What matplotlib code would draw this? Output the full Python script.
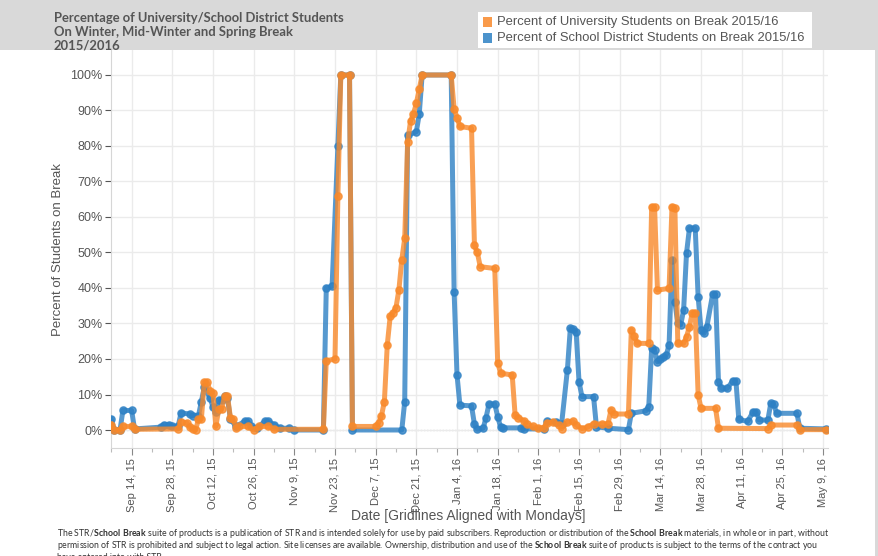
import numpy as np
import pandas as pd
import matplotlib
matplotlib.use('Agg')
import matplotlib.pyplot as plt
from matplotlib.patches import Rectangle
from matplotlib.ticker import FixedLocator, FuncFormatter

plt.rcParams['font.family'] = ['Liberation Sans', 'DejaVu Sans']
plt.rcParams['mathtext.fontset'] = 'custom'
plt.rcParams['mathtext.rm'] = 'Lato'
plt.rcParams['mathtext.bf'] = 'Lato:bold'

# --- data (day offsets from Mon Sep 14, 2015; percent on break) ---
start = pd.Timestamp('2015-09-14')

uni_day = [-7, -6, -4, -3, 0, 1, 16, 17, 19, 20, 21, 22, 23, 24, 25, 26, 27, 28, 29, 30,
           31, 32, 33, 34, 35, 36, 37, 40, 42, 44, 47, 49, 66, 67, 70, 71, 72, 75, 76, 84,
           85, 86, 87, 88, 89, 90, 91, 92, 93, 94, 95, 96, 97, 98, 99, 100, 110, 111, 112, 113,
           117, 118, 119, 120, 125, 126, 127, 131, 132, 133, 135, 136, 138, 140, 142, 143, 145, 147, 148, 150,
           152, 153, 155, 157, 159, 162, 164, 165, 166, 171, 172, 173, 174, 178, 179, 180, 181, 185, 186, 187,
           188, 190, 191, 192, 193, 194, 195, 196, 201, 202, 219, 220, 229, 230, 239]
uni_pct = [1.5, 0, 0, 1, 1, 0.2, 0.3, 2.3, 2, 0.9, 0.3, 0, 3, 3, 13.5, 13.5, 11, 10.5, 1, 6,
           6, 9.5, 9.5, 3.5, 3, 0.5, 1, 1, 0, 1, 1, 0.2, 0.2, 19.5, 20, 66, 100, 100, 1, 1,
           2, 4, 8, 24, 32, 33, 34.5, 39.5, 48, 54, 81, 87, 89, 92, 96, 100, 100, 90.5, 88, 85.5,
           85, 52, 50, 46, 45.5, 19, 16, 15.5, 4.2, 3.5, 2.6, 1.6, 1, 0.6, 0.6, 2, 2.2, 1.4, 0.4, 2.2,
           2.4, 1.4, 0.4, 0.8, 1.8, 1.6, 1.8, 5.6, 4.5, 4.5, 28.2, 26.5, 24.4, 24.4, 62.9, 62.9, 39.4, 39.9, 62.9, 62.5,
           24.4, 24.4, 26.3, 29.1, 33, 33, 9.9, 6.1, 6.1, 0.5, 0.4, 1.4, 1.4, 0.1, 0.1]

sd_day = [-7, -6, -4, -3, 0, 1, 10, 11, 13, 14, 16, 17, 20, 21, 23, 24, 25, 27, 28, 29,
          30, 31, 32, 33, 34, 36, 39, 40, 41, 43, 46, 47, 49, 51, 54, 56, 66, 67, 69, 71,
          72, 75, 76, 93, 94, 95, 98, 99, 100, 110, 111, 112, 113, 117, 118, 119, 121, 122, 123, 125,
          126, 127, 128, 134, 135, 142, 143, 146, 148, 150, 151, 152, 153, 154, 155, 159, 160, 164, 171, 172,
          177, 178, 179, 180, 181, 182, 183, 184, 185, 186, 187, 188, 189, 190, 191, 192, 194, 195, 196, 197,
          198, 200, 201, 202, 203, 205, 207, 208, 209, 212, 214, 215, 216, 219, 220, 221, 222, 229, 230, 239]
sd_pct = [3, 0, 0, 5.5, 5.5, 0.3, 0.8, 1.5, 1.5, 1, 1, 4.8, 4.5, 4, 4, 8, 12, 9, 6.5, 5,
          8.5, 8.5, 9.5, 9, 3, 1, 2.5, 2.5, 1, 0.5, 2.5, 2.5, 1.5, 0.5, 0.5, 0, 0, 40, 40.5, 80,
          100, 100, 0, 0, 8, 83, 84, 89, 100, 100, 39, 15.5, 7, 6.8, 1.6, 0.2, 0.5, 3.5, 7.3, 7.3,
          3.8, 0.8, 0.6, 0.6, 0.3, 0.3, 2.5, 2.3, 1.7, 17, 28.6, 28.4, 27.7, 13.6, 9.4, 9.4, 0.9, 0.5, 0.1, 4.7,
          5.4, 6.6, 23, 22.5, 19.2, 19.9, 20.5, 21, 24, 48, 36, 30, 29.6, 33.8, 49.8, 56.8, 56.8, 37.5, 28.2, 27.2,
          29.1, 38.3, 38.3, 13.6, 11.7, 11.7, 13.9, 13.9, 3, 2.4, 5.2, 5.2, 2.8, 2.8, 7.5, 7.3, 4.7, 4.7, 0.5, 0.3]

uni_label = 'Percent of University Students on Break 2015/16'
sd_label = 'Percent of School District Students on Break 2015/16'
title = ('Percentage of University/School District Students\n'
         'On Winter, Mid-Winter and Spring Break\n2015/2016')

uni_col = '#f8892a'
sd_col = '#2d80c4'

W, H = 879, 556
fig = plt.figure(figsize=(W / 100, H / 100), dpi=100)
fig.patch.set_facecolor('white')

# grey header band + right border
fig.patches.append(Rectangle((0, 1 - 50 / H), 1, 50 / H, transform=fig.transFigure,
                             facecolor='#d9d9d9', edgecolor='none', zorder=0))
fig.patches.append(Rectangle((875 / W, 0), 4 / W, 1, transform=fig.transFigure,
                             facecolor='#d9d9d9', edgecolor='none', zorder=0))

ax = fig.add_axes([111 / W, 1 - 448 / H, (828 - 111) / W, (448 - 50) / H])
ax.set_facecolor('white')

ax.plot(sd_day, sd_pct, color=sd_col, lw=3.6, alpha=0.8, marker='o', ms=5.2,
        solid_joinstyle='round', zorder=3)
ax.plot(uni_day, uni_pct, color=uni_col, lw=3.6, alpha=0.8, marker='o', ms=5.2,
        solid_joinstyle='round', zorder=4)

ax.set_xlim(-7.1, 239.7)
ax.set_ylim(-5.07, 107.04)

major = np.arange(0, 239, 14)
minor = np.arange(-7, 240, 7)
ax.xaxis.set_major_locator(FixedLocator(major))
ax.xaxis.set_minor_locator(FixedLocator(minor))
ax.xaxis.set_major_formatter(FuncFormatter(
    lambda d, p: (start + pd.Timedelta(days=int(round(d)))).strftime('%b %-d, %y')))
ax.set_yticks(np.arange(0, 101, 10))
ax.yaxis.set_major_formatter(FuncFormatter(lambda v, p: f'{int(v)}%'))

ax.grid(True, which='major', color='#ebebeb', lw=1, zorder=0)
ax.axhline(0, color='#b0b0b0', lw=0.9, ls=(0, (1, 1.5)), zorder=1)

for s in ['top', 'right']:
    ax.spines[s].set_visible(False)
for s in ['left', 'bottom']:
    ax.spines[s].set_color('#d6d6d6')

ax.tick_params(axis='y', labelsize=9, colors='#555555', length=4, pad=2, width=0.8)
ax.tick_params(axis='x', which='major', labelsize=8, labelcolor='#555555', color='#888888',
               length=5, pad=2, labelrotation=90, width=0.8)
ax.tick_params(axis='x', which='minor', color='#bbbbbb', length=3, width=0.8)

ax.set_ylabel('Percent of Students on Break', fontsize=9.5, color='#555555')
ax.yaxis.set_label_coords((64 - 111) / 717, (448 - 250) / 398)
ax.set_xlabel('Date [Gridlines Aligned with Mondays]', fontsize=10, color='#555555')
ax.xaxis.set_label_coords((468 - 111) / 717, (448 - 516) / 398)
ax.xaxis.label.set_va('center')

# title in header
fig.text(54 / W, 1 - 12 / H, title, fontsize=9.4, fontweight='bold', color='#555555',
         family='Lato', va='top', ha='left', linespacing=1.2)

# legend box in header
fig.patches.append(Rectangle((478 / W, 1 - 48 / H), (812 - 478) / W, 36 / H,
                             transform=fig.transFigure, facecolor='white',
                             edgecolor='none', zorder=1))
for yy, col, lab in [(22, uni_col, uni_label), (38, sd_col, sd_label)]:
    fig.patches.append(Rectangle((483 / W, 1 - (yy + 5) / H), 9 / W, 10 / H,
                                 transform=fig.transFigure, facecolor=col,
                                 edgecolor='none', alpha=0.85, zorder=2))
    fig.text(497 / W, 1 - yy / H, lab, fontsize=9.4, color='#555555', va='center', ha='left')

# footer
footer = [r'The STR/$\mathbf{School\ Break}$ suite of products is a publication of STR and is intended solely '
          r'for use by paid subscribers. Reproduction or distribution of the $\mathbf{School\ Break}$ '
          r'materials, in whole or in part, without',
          r'permission of STR is prohibited and subject to legal action. Site licenses are available. '
          r'Ownership, distribution and use of the $\mathbf{School\ Break}$ suite of products is subject '
          r'to the terms of the contract you',
          r'have entered into with STR.']
for i, line in enumerate(footer):
    fig.text(57 / W, 1 - (533 + 12.5 * i) / H, line, fontsize=6.35, color='#333333',
             family='Lato', va='center', ha='left')

fig.savefig('out.png', dpi=100, facecolor=fig.get_facecolor())
